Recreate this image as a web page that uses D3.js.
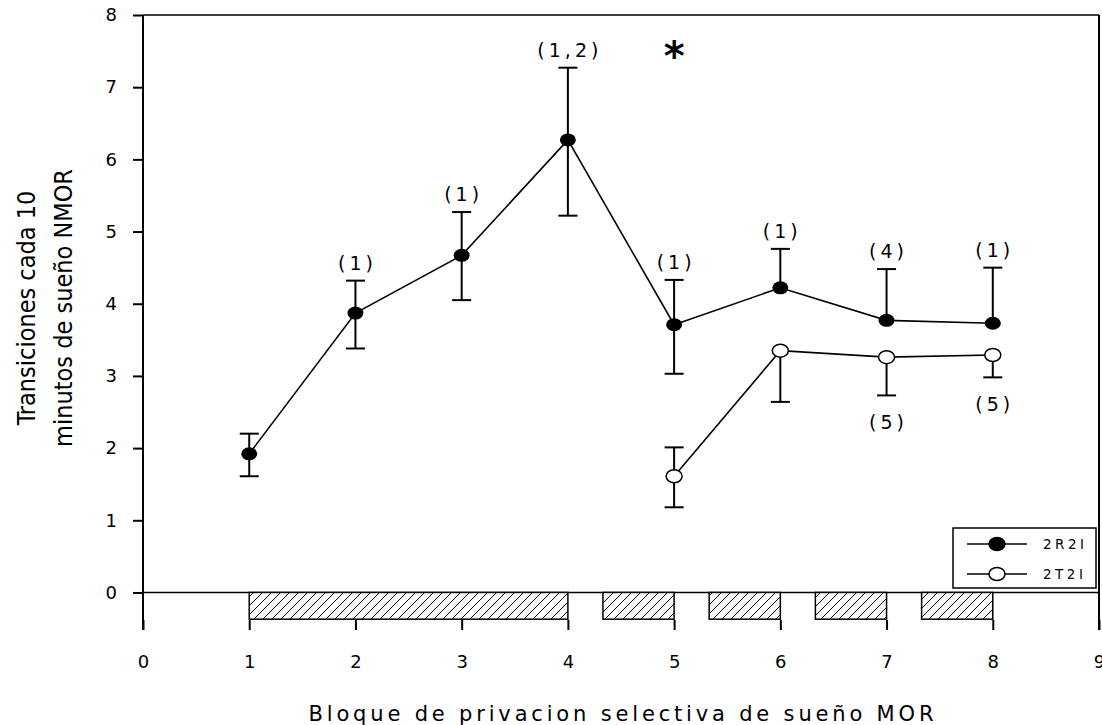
<!DOCTYPE html>
<html><head><meta charset="utf-8">
<script src="https://cdn.jsdelivr.net/npm/d3@7"></script>
<style>body{margin:0;background:#fff}svg{display:block}</style>
</head><body>
<script>
// ---- data ----
const blocks = [1, 2, 3, 4, 5, 6, 7, 8];
const r2iMean  = [1.92, 3.87, 4.67, 6.27, 3.71, 4.22, 3.77, 3.73];
const r2iUpper = [2.20, 4.32, 5.27, 7.27, 4.33, 4.76, 4.48, 4.50];
const r2iLower = [1.61, 3.38, 4.05, 5.22, 3.03, null, null, null];
const r2iLabels = ["", "(1)", "(1)", "(1,2)", "(1)", "(1)", "(4)", "(1)"];
const t2iBlocks = [5, 6, 7, 8];
const t2iMean  = [1.61, 3.35, 3.26, 3.29];
const t2iUpper = [2.01, null, null, null];
const t2iLower = [1.18, 2.64, 2.73, 2.98];
const t2iLabels = ["", "", "(5)", "(5)"];
const deprivStart = [1, 4.33, 5.33, 6.33, 7.33];
const deprivEnd   = [4, 5, 6, 7, 8];
const deprivDepth = -0.37;
const xTicks = [0, 1, 2, 3, 4, 5, 6, 7, 8, 9];
const yTicks = [0, 1, 2, 3, 4, 5, 6, 7, 8];
const seriesNames = ["2R2I", "2T2I"];
const sigBlock = 5;

const W = 1102, H = 725;
const svg = d3.select("body").append("svg").attr("width", W).attr("height", H)
  .style("font-family", "'DejaVu Sans', Verdana, sans-serif");

const x = d3.scaleLinear().domain([0, 9]).range([143, 1099]);
const y = d3.scaleLinear().domain([-0.52, 8]).range([630, 15]);

// hatch pattern
const defs = svg.append("defs");
const pat = defs.append("pattern").attr("id", "hatch").attr("patternUnits", "userSpaceOnUse")
  .attr("width", 9).attr("height", 9);
pat.append("rect").attr("width", 9).attr("height", 9).attr("fill", "#fff");
pat.append("path").attr("d", "M-1,1 l2,-2 M0,9 l9,-9 M8,10 l2,-2")
  .attr("stroke", "#000").attr("stroke-width", 1);

// frame top & right
svg.append("line").attr("x1", x(0)).attr("x2", x(9)).attr("y1", y(8)).attr("y2", y(8))
  .attr("stroke", "#000").attr("stroke-width", 1.5);
svg.append("line").attr("x1", x(9)).attr("x2", x(9)).attr("y1", y(8)).attr("y2", y(-0.52))
  .attr("stroke", "#000").attr("stroke-width", 2);
// zero line
svg.append("line").attr("x1", x(0)).attr("x2", x(9)).attr("y1", y(0)).attr("y2", y(0))
  .attr("stroke", "#000").attr("stroke-width", 1.5);

// x axis (ticks only)
const xAxis = svg.append("g").attr("transform", `translate(0,${y(-0.52)})`)
  .call(d3.axisBottom(x).tickValues(xTicks).tickFormat(d3.format("d"))
    .tickSizeInner(-10).tickSizeOuter(0).tickPadding(25));
xAxis.select(".domain").remove();
xAxis.selectAll("line").attr("stroke", "#000").attr("stroke-width", 2);
xAxis.selectAll("text").attr("font-size", 18).attr("font-family", "'DejaVu Sans'").attr("fill", "#000");

// y axis
const yAxis = svg.append("g").attr("transform", `translate(${x(0)},0)`)
  .call(d3.axisLeft(y).tickValues(yTicks).tickFormat(d3.format("d"))
    .tickSizeInner(10).tickSizeOuter(0).tickPadding(16));
yAxis.select(".domain").remove();
yAxis.selectAll("line").attr("stroke", "#000").attr("stroke-width", 2);
yAxis.selectAll("text").attr("font-size", 18).attr("font-family", "'DejaVu Sans'").attr("fill", "#000");
svg.append("line").attr("x1", x(0)).attr("x2", x(0)).attr("y1", y(8)).attr("y2", y(-0.52))
  .attr("stroke", "#000").attr("stroke-width", 2);

// deprivation blocks
svg.selectAll("rect.block").data(deprivStart).enter().append("rect").attr("class", "block")
  .attr("x", (d) => x(d)).attr("width", (d, i) => x(deprivEnd[i]) - x(d))
  .attr("y", y(0)).attr("height", y(deprivDepth) - y(0))
  .attr("fill", "url(#hatch)").attr("stroke", "#000").attr("stroke-width", 1.5);

// error bars
function errBars(xs, mean, up, lo) {
  const g = svg.append("g").attr("stroke", "#000").attr("stroke-width", 2);
  xs.forEach((xv, i) => {
    [up[i], lo[i]].forEach(v => {
      if (v == null) return;
      g.append("line").attr("x1", x(xv)).attr("x2", x(xv)).attr("y1", y(mean[i])).attr("y2", y(v));
      g.append("line").attr("x1", x(xv) - 9.5).attr("x2", x(xv) + 9.5).attr("y1", y(v)).attr("y2", y(v));
    });
  });
}
errBars(blocks, r2iMean, r2iUpper, r2iLower);
errBars(t2iBlocks, t2iMean, t2iUpper, t2iLower);

const line = d3.line().x(d => x(d[0])).y(d => y(d[1]));
svg.append("path").attr("d", line(blocks.map((b, i) => [b, r2iMean[i]])))
  .attr("fill", "none").attr("stroke", "#000").attr("stroke-width", 1.6);
svg.append("path").attr("d", line(t2iBlocks.map((b, i) => [b, t2iMean[i]])))
  .attr("fill", "none").attr("stroke", "#000").attr("stroke-width", 1.6);

svg.selectAll("ellipse.r2i").data(blocks).enter().append("ellipse").attr("class", "r2i")
  .attr("cx", d => x(d)).attr("cy", (d, i) => y(r2iMean[i])).attr("rx", 8).attr("ry", 6.5)
  .attr("fill", "#000");
svg.selectAll("ellipse.t2i").data(t2iBlocks).enter().append("ellipse").attr("class", "t2i")
  .attr("cx", d => x(d)).attr("cy", (d, i) => y(t2iMean[i])).attr("rx", 8).attr("ry", 6.5)
  .attr("fill", "#fff").attr("stroke", "#000").attr("stroke-width", 1.5);

// annotation labels
const LS = 4;
svg.selectAll("text.lab1").data(blocks).enter().append("text").attr("class", "lab1")
  .attr("x", d => x(d) + LS / 2).attr("y", (d, i) => y(r2iUpper[i]) - 11)
  .attr("text-anchor", "middle").attr("font-size", 19).attr("letter-spacing", LS)
  .text((d, i) => r2iLabels[i]);
svg.selectAll("text.lab2").data(t2iBlocks).enter().append("text").attr("class", "lab2")
  .attr("x", d => x(d) + LS / 2).attr("y", (d, i) => y(t2iLower[i]) + 34)
  .attr("text-anchor", "middle").attr("font-size", 19).attr("letter-spacing", LS)
  .text((d, i) => t2iLabels[i]);

// significance star
svg.append("text").attr("x", x(sigBlock)).attr("y", 70).attr("text-anchor", "middle")
  .attr("font-size", 40).attr("font-weight", "bold").text("*");

// axis titles
svg.append("text").attr("x", (x(0) + x(9)) / 2).attr("y", 721).attr("text-anchor", "middle")
  .attr("font-size", 21).attr("textLength", 625).attr("lengthAdjust", "spacing")
  .text("Bloque de privacion selectiva de sueño MOR");
const yl = svg.append("g").attr("transform", "translate(0,308)")
  .style("font-family", "'DejaVu Sans Condensed', 'DejaVu Sans', sans-serif")
  .style("font-stretch", "condensed");
yl.append("text").attr("transform", "translate(35,0) rotate(-90)").attr("text-anchor", "middle")
  .attr("font-size", 25).text("Transiciones cada 10");
yl.append("text").attr("transform", "translate(72,0) rotate(-90)").attr("text-anchor", "middle")
  .attr("font-size", 25).text("minutos de sueño NMOR");

// legend
const lg = svg.append("g");
lg.append("rect").attr("x", 953).attr("y", 528).attr("width", 143).attr("height", 60)
  .attr("fill", "#fff").attr("stroke", "#000").attr("stroke-width", 1.5);
seriesNames.forEach((s, i) => {
  const ly = 544 + i * 30;
  lg.append("line").attr("x1", 967).attr("x2", 1027).attr("y1", ly).attr("y2", ly)
    .attr("stroke", "#000").attr("stroke-width", 1.6);
  lg.append("ellipse").attr("cx", 997).attr("cy", ly).attr("rx", 8).attr("ry", 6.5)
    .attr("fill", i === 0 ? "#000" : "#fff").attr("stroke", "#000").attr("stroke-width", 1.5);
  lg.append("text").attr("x", 1043).attr("y", ly + 5).attr("font-size", 13.5)
    .attr("letter-spacing", 3.5).text(s);
});
</script>
</body></html>
